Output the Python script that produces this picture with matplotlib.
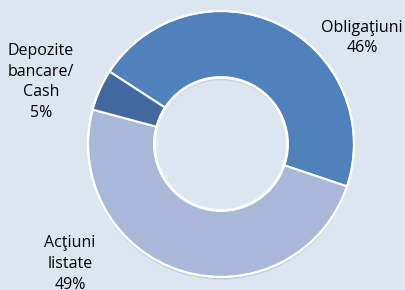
import matplotlib
matplotlib.use("Agg")
import matplotlib.pyplot as plt
from matplotlib.patches import Wedge

# portfolio structure
categories = ["Obligaţiuni", "Acţiuni listate", "Depozite bancare/Cash"]
shares = [46, 49, 5]
labels = ["Obligaţiuni\n46%", "Acţiuni\nlistate\n49%", "Depozite\nbancare/\nCash\n5%"]
colors = ["#4f81bd", "#a9b8d8", "#41699f"]
bg = "#dce6f1"

W, H = 405, 290
fig = plt.figure(figsize=(W / 100, H / 100), dpi=100, facecolor=bg)
ax = fig.add_axes([0, 0, 1, 1])
ax.set_facecolor(bg)

cx, cy, R = 221, H - 144, 133

# soft shadow under the ring
for off, a in [(3, 0.06), (2, 0.08), (1, 0.10)]:
    ax.add_patch(Wedge((cx, cy - off), R, 0, 360, width=R / 2,
                       facecolor="black", alpha=a, edgecolor="none"))

ax.pie(shares, colors=colors, startangle=147, counterclock=False,
       center=(cx, cy), radius=R,
       wedgeprops=dict(width=R / 2, edgecolor="white", linewidth=1.5))

# white outline round the outer and inner edge
ax.add_patch(plt.Circle((cx, cy), R, fill=False, edgecolor="white", lw=1.5))
ax.add_patch(plt.Circle((cx, cy), R / 2, fill=False, edgecolor="white", lw=2))

font = dict(family=["Open Sans", "DejaVu Sans"], fontsize=11.5,
            color="black", ha="center", va="center", linespacing=1.4)
ax.text(362, H - 38, labels[0], **font)
ax.text(70, H - 264, labels[1], **font)
ax.text(41, H - 82, labels[2], **font)

ax.set_xlim(0, W)
ax.set_ylim(0, H)
ax.set_aspect("equal")
ax.axis("off")

fig.savefig("out.png", dpi=100, facecolor=bg)
